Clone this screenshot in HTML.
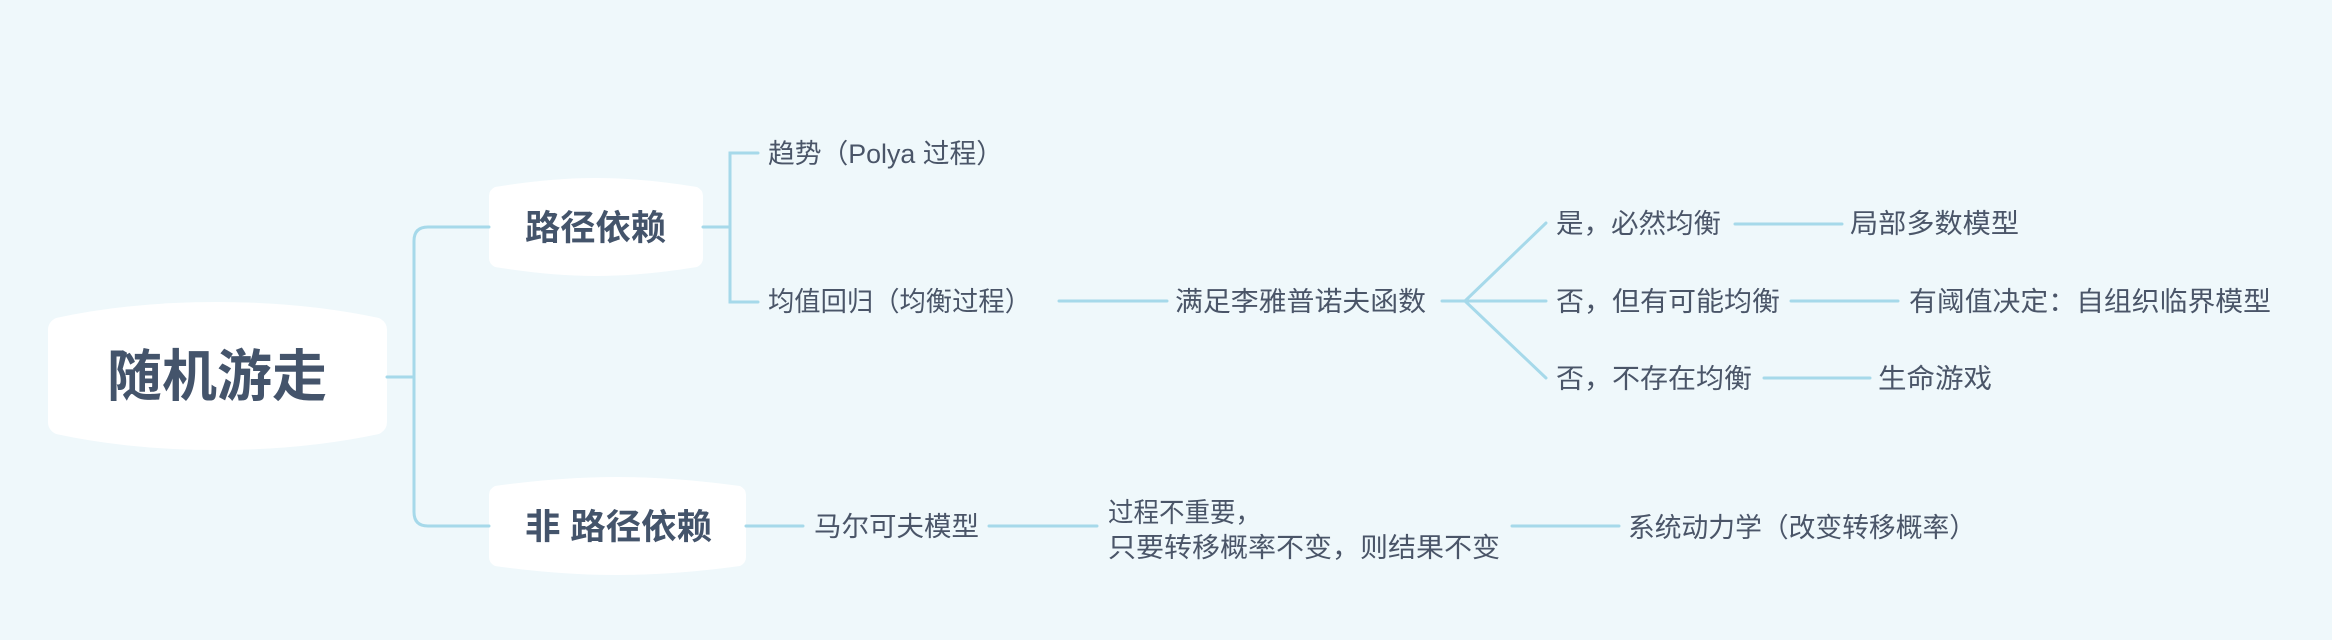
<!DOCTYPE html>
<html><head><meta charset="utf-8"><style>
html,body{margin:0;padding:0;background:#eff8fb;}
svg{display:block}
text{font-family:"Liberation Sans","Noto Sans CJK SC",sans-serif;fill:#4a5568;}
.b{font-weight:bold;fill:#44546b}
</style></head><body>
<svg width="2332" height="640" viewBox="0 0 2332 640" xmlns="http://www.w3.org/2000/svg">
<rect width="2332" height="640" fill="#eff8fb"/>
<g fill="#ffffff">
<path d="M48,330 Q48,322 56,318 Q130,302 217,302 Q304,302 379,318 Q387,322 387,330 L387,422 Q387,430 379,434 Q304,450 217,450 Q130,450 56,434 Q48,430 48,422 Z"/>
<path d="M489,196 Q489,190 495,187 Q550,178 596,178 Q642,178 697,187 Q703,190 703,196 L703,258 Q703,264 697,267 Q642,276 596,276 Q550,276 495,267 Q489,264 489,258 Z"/>
<path d="M489,495 Q489,489 495,486 Q560,477 617,477 Q674,477 740,486 Q746,489 746,495 L746,557 Q746,563 740,566 Q674,575 617,575 Q560,575 495,566 Q489,563 489,557 Z"/>
</g>
<g stroke="#a6d9ea" stroke-width="3" fill="none" stroke-linecap="round">
<path d="M387,377 L414,377"/>
<path d="M489,227 L428,227 Q414,227 414,241 L414,512 Q414,526 428,526 L489,526"/>
<path d="M703,227 L730,227"/>
<path d="M758,153 L730,153 L730,302 L758,302"/>
<path d="M1059,301 L1167,301"/>
<path d="M1442,301 L1465,301"/>
<path d="M1465,301 L1546,223"/>
<path d="M1465,301 L1546,301"/>
<path d="M1465,301 L1546,378"/>
<path d="M1735,224 L1842,224"/>
<path d="M1791,301 L1898,301"/>
<path d="M1764,378 L1870,378"/>
<path d="M746,526 L803,526"/>
<path d="M989,526 L1097,526"/>
<path d="M1512,526 L1619,526"/>
</g>
<text class="b" x="217" y="396" font-size="56" text-anchor="middle" textLength="220" lengthAdjust="spacingAndGlyphs">随机游走</text>
<text class="b" x="525" y="240" font-size="35" textLength="141" lengthAdjust="spacingAndGlyphs">路径依赖</text>
<text class="b" x="525" y="539" font-size="35" textLength="187" lengthAdjust="spacingAndGlyphs">非 路径依赖</text>
<g font-size="27">
<text x="768" y="163" textLength="235" lengthAdjust="spacingAndGlyphs">趋势（Polya 过程）</text>
<text x="768" y="311" textLength="263" lengthAdjust="spacingAndGlyphs">均值回归（均衡过程）</text>
<text x="1175" y="311" textLength="251" lengthAdjust="spacingAndGlyphs">满足李雅普诺夫函数</text>
<text x="1556" y="233" textLength="165" lengthAdjust="spacingAndGlyphs">是，必然均衡</text>
<text x="1850" y="233" textLength="169" lengthAdjust="spacingAndGlyphs">局部多数模型</text>
<text x="1556" y="311" textLength="224" lengthAdjust="spacingAndGlyphs">否，但有可能均衡</text>
<text x="1909" y="311" textLength="362" lengthAdjust="spacingAndGlyphs">有阈值决定：自组织临界模型</text>
<text x="1556" y="388" textLength="196" lengthAdjust="spacingAndGlyphs">否，不存在均衡</text>
<text x="1878" y="388" textLength="114" lengthAdjust="spacingAndGlyphs">生命游戏</text>
<text x="814" y="536" textLength="165" lengthAdjust="spacingAndGlyphs">马尔可夫模型</text>
<text x="1108" y="522" textLength="153" lengthAdjust="spacingAndGlyphs">过程不重要，</text>
<text x="1108" y="557" textLength="392" lengthAdjust="spacingAndGlyphs">只要转移概率不变，则结果不变</text>
<text x="1628" y="537" textLength="348" lengthAdjust="spacingAndGlyphs">系统动力学（改变转移概率）</text>
</g>
</svg>
</body></html>
